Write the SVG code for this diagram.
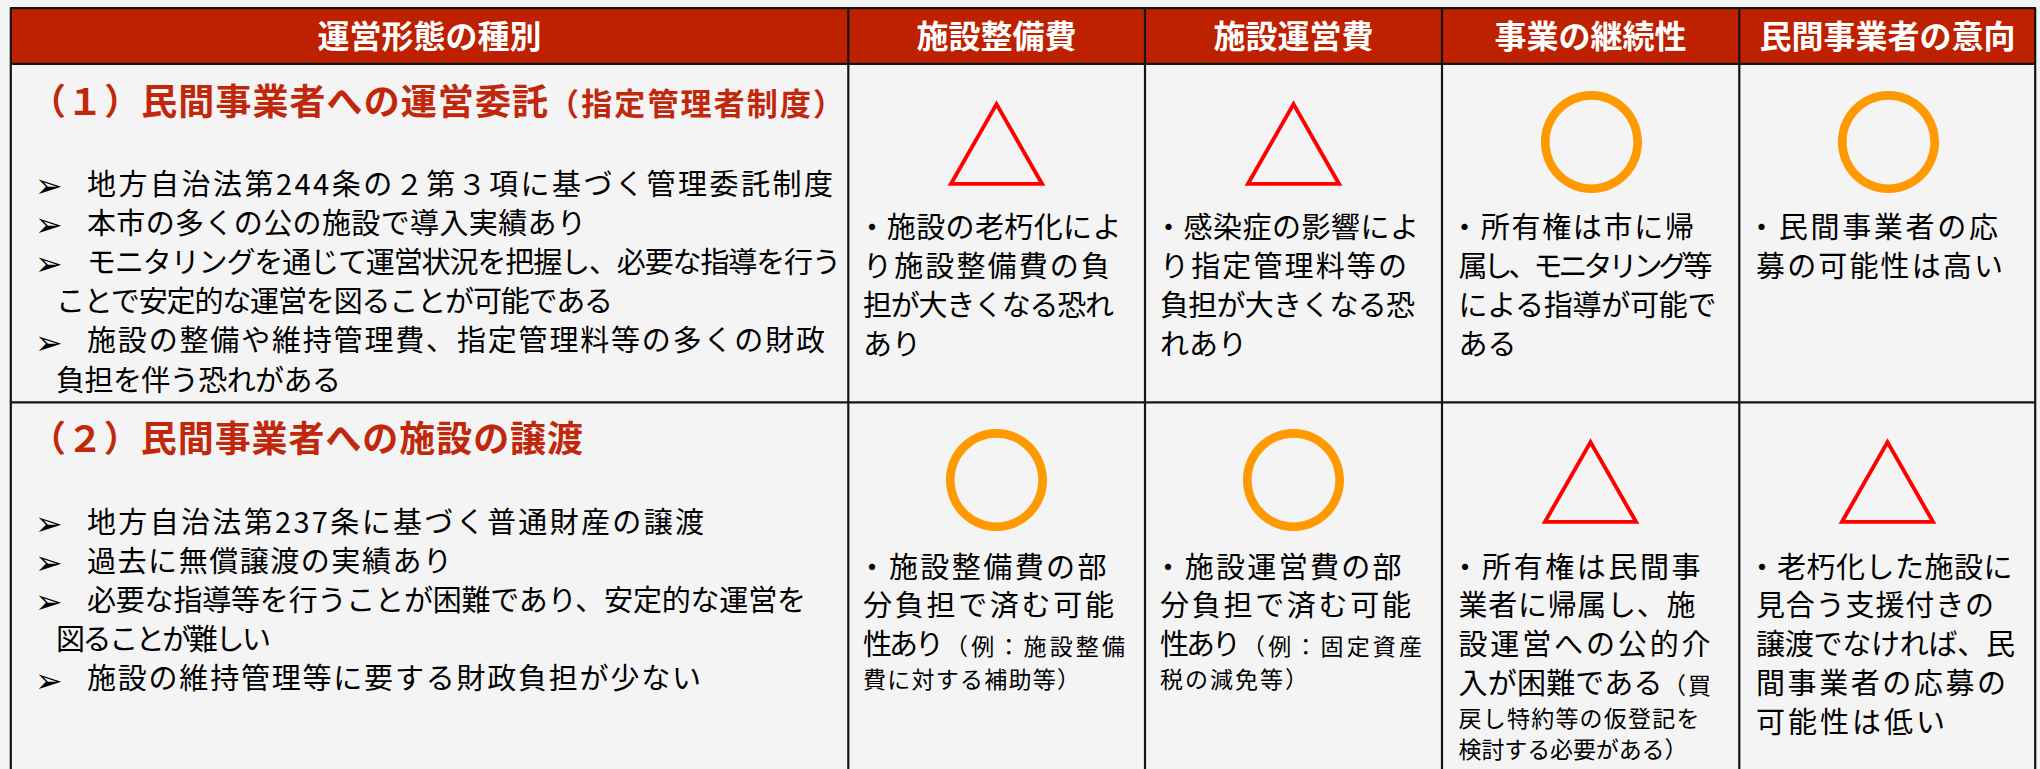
<svg xmlns="http://www.w3.org/2000/svg" width="2040" height="769" viewBox="0 0 2040 769">
<style>
text { font-family: "Noto Sans CJK JP", "Noto Sans CJK SC", sans-serif; }
.hd { font-size: 32px; font-weight: bold; fill: #ffffff; text-anchor: middle; }
.ttl { font-weight: bold; fill: #C1270A; }
.t { font-size: 29px; fill: #000000; }
.s { font-size: 23px; }
.ar { font-family: "DejaVu Sans", sans-serif; font-size: 33px; fill: #000000; }
.tri { font-size: 104px; fill: #FF0000; text-anchor: middle; }
.cir { font-size: 112px; fill: #FF9900; text-anchor: middle; }
.ln { stroke: #151515; stroke-width: 2.2; fill: none; }
</style>
<rect x="0" y="0" width="2040" height="769" fill="#F4F4F4"/>
<rect x="11" y="8" width="2025" height="56" fill="#BE2100"/>

<g id="grid">
<line class="ln" x1="10" y1="8.2" x2="2036" y2="8.2"/>
<line class="ln" x1="10" y1="63.8" x2="2036" y2="63.8"/>
<line class="ln" x1="10" y1="402.3" x2="2036" y2="402.3"/>
<line class="ln" x1="10.8" y1="8" x2="10.8" y2="769"/>
<line class="ln" x1="848.3" y1="8" x2="848.3" y2="769"/>
<line class="ln" x1="1145" y1="8" x2="1145" y2="769"/>
<line class="ln" x1="1442" y1="8" x2="1442" y2="769"/>
<line class="ln" x1="1739.3" y1="8" x2="1739.3" y2="769"/>
<line class="ln" x1="2035.2" y1="8" x2="2035.2" y2="769"/>
</g>

<g id="header">
<text class="hd" x="429.5" y="47.5">運営形態の種別</text>
<text class="hd" x="996.5" y="47.5">施設整備費</text>
<text class="hd" x="1293.5" y="47.5">施設運営費</text>
<text class="hd" x="1590.5" y="47.5">事業の継続性</text>
<text class="hd" x="1887.5" y="47.5">民間事業者の意向</text>
</g>

<g id="row1-type">
<text class="ttl" y="115"><tspan x="30" font-size="36" textLength="518" lengthAdjust="spacing">（１）民間事業者への運営委託</tspan><tspan x="548" font-size="31" textLength="296" lengthAdjust="spacing">（指定管理者制度）</tspan></text>
<text class="ar" x="35" y="197">➢</text>
<text class="ar" x="35" y="236.2">➢</text>
<text class="ar" x="35" y="275.4">➢</text>
<text class="ar" x="35" y="353.8">➢</text>
<text class="t" x="87" y="194.5" textLength="746" lengthAdjust="spacing">地方自治法第244条の２第３項に基づく管理委託制度</text>
<text class="t" x="87" y="233.7" textLength="499" lengthAdjust="spacing">本市の多くの公の施設で導入実績あり</text>
<text class="t" x="87" y="272.9" textLength="754" lengthAdjust="spacing">モニタリングを通じて運営状況を把握し、必要な指導を行う</text>
<text class="t" x="56" y="312.1" textLength="557" lengthAdjust="spacing">ことで安定的な運営を図ることが可能である</text>
<text class="t" x="87" y="351.3" textLength="738" lengthAdjust="spacing">施設の整備や維持管理費、指定管理料等の多くの財政</text>
<text class="t" x="56" y="390.5" textLength="285" lengthAdjust="spacing">負担を伴う恐れがある</text>
</g>

<g id="row1-c2">
<text class="tri" x="996.5" y="187">△</text>
<text class="t" x="857.5" y="237.5" textLength="264" lengthAdjust="spacing">・施設の老朽化によ</text>
<text class="t" x="863" y="276.8" textLength="247" lengthAdjust="spacing">り施設整備費の負</text>
<text class="t" x="863" y="316.1" textLength="251" lengthAdjust="spacing">担が大きくなる恐れ</text>
<text class="t" x="863" y="355.4">あり</text>
</g>

<g id="row1-c3">
<text class="tri" x="1293.5" y="187">△</text>
<text class="t" x="1154" y="237.5" textLength="265" lengthAdjust="spacing">・感染症の影響によ</text>
<text class="t" x="1160" y="276.8" textLength="247" lengthAdjust="spacing">り指定管理料等の</text>
<text class="t" x="1160" y="316.1" textLength="255" lengthAdjust="spacing">負担が大きくなる恐</text>
<text class="t" x="1160" y="355.4">れあり</text>
</g>

<g id="row1-c4">
<text class="cir" x="1591.5" y="185">〇</text>
<text class="t" x="1450" y="237.5" textLength="244" lengthAdjust="spacing">・所有権は市に帰</text>
<text class="t" x="1458.5" y="276.8" textLength="254" lengthAdjust="spacing">属し、モニタリング等</text>
<text class="t" x="1458.5" y="316.1" textLength="258" lengthAdjust="spacing">による指導が可能で</text>
<text class="t" x="1458.5" y="355.4">ある</text>
</g>

<g id="row1-c5">
<text class="cir" x="1888.5" y="185">〇</text>
<text class="t" x="1747" y="237.5" textLength="251" lengthAdjust="spacing">・民間事業者の応</text>
<text class="t" x="1756" y="276.8" textLength="247" lengthAdjust="spacing">募の可能性は高い</text>
</g>

<g id="row2-type">
<text class="ttl" x="30" y="452" font-size="36" textLength="553" lengthAdjust="spacing">（２）民間事業者への施設の譲渡</text>
<text class="ar" x="35" y="535">➢</text>
<text class="ar" x="35" y="574.2">➢</text>
<text class="ar" x="35" y="613.4">➢</text>
<text class="ar" x="35" y="691.8">➢</text>
<text class="t" x="87" y="532.5" textLength="617" lengthAdjust="spacing">地方自治法第237条に基づく普通財産の譲渡</text>
<text class="t" x="87" y="571.7" textLength="365" lengthAdjust="spacing">過去に無償譲渡の実績あり</text>
<text class="t" x="87" y="610.9" textLength="719" lengthAdjust="spacing">必要な指導等を行うことが困難であり、安定的な運営を</text>
<text class="t" x="56" y="650.1" textLength="215" lengthAdjust="spacing">図ることが難しい</text>
<text class="t" x="87" y="689.3" textLength="614" lengthAdjust="spacing">施設の維持管理等に要する財政負担が少ない</text>
</g>

<g id="row2-c2">
<text class="cir" x="996.5" y="523">〇</text>
<text class="t" x="857.5" y="577.5" textLength="249" lengthAdjust="spacing">・施設整備費の部</text>
<text class="t" x="863" y="616.3" textLength="251" lengthAdjust="spacing">分負担で済む可能</text>
<text class="t" y="655.1"><tspan x="863" textLength="81" lengthAdjust="spacing">性あり</tspan><tspan class="s" x="945" textLength="180" lengthAdjust="spacing">（例：施設整備</tspan></text>
<text class="t s" x="863" y="688" textLength="217" lengthAdjust="spacing">費に対する補助等）</text>
</g>

<g id="row2-c3">
<text class="cir" x="1293.5" y="523">〇</text>
<text class="t" x="1153.5" y="577.5" textLength="248" lengthAdjust="spacing">・施設運営費の部</text>
<text class="t" x="1160" y="616.3" textLength="251" lengthAdjust="spacing">分負担で済む可能</text>
<text class="t" y="655.1"><tspan x="1160" textLength="81" lengthAdjust="spacing">性あり</tspan><tspan class="s" x="1242" textLength="180" lengthAdjust="spacing">（例：固定資産</tspan></text>
<text class="t s" x="1160" y="688" textLength="148" lengthAdjust="spacing">税の減免等）</text>
</g>

<g id="row2-c4">
<text class="tri" x="1590.5" y="525">△</text>
<text class="t" x="1450.5" y="577.5" textLength="250" lengthAdjust="spacing">・所有権は民間事</text>
<text class="t" x="1458.5" y="616.3" textLength="237" lengthAdjust="spacing">業者に帰属し、施</text>
<text class="t" x="1458.5" y="655.1" textLength="252" lengthAdjust="spacing">設運営への公的介</text>
<text class="t" y="693.9"><tspan x="1458.5" textLength="204" lengthAdjust="spacing">入が困難である</tspan><tspan class="s" x="1663" textLength="48" lengthAdjust="spacing">（買</tspan></text>
<text class="t s" x="1458.5" y="727" textLength="241" lengthAdjust="spacing">戻し特約等の仮登記を</text>
<text class="t s" x="1458.5" y="758" textLength="229" lengthAdjust="spacing">検討する必要がある）</text>
</g>

<g id="row2-c5">
<text class="tri" x="1887.5" y="525">△</text>
<text class="t" x="1747.5" y="577.5" textLength="265" lengthAdjust="spacing">・老朽化した施設に</text>
<text class="t" x="1756" y="616.3" textLength="238" lengthAdjust="spacing">見合う支援付きの</text>
<text class="t" x="1756" y="655.1" textLength="259" lengthAdjust="spacing">譲渡でなければ、民</text>
<text class="t" x="1756" y="693.9" textLength="250" lengthAdjust="spacing">間事業者の応募の</text>
<text class="t" x="1756" y="732.7" textLength="189" lengthAdjust="spacing">可能性は低い</text>
</g>
</svg>
